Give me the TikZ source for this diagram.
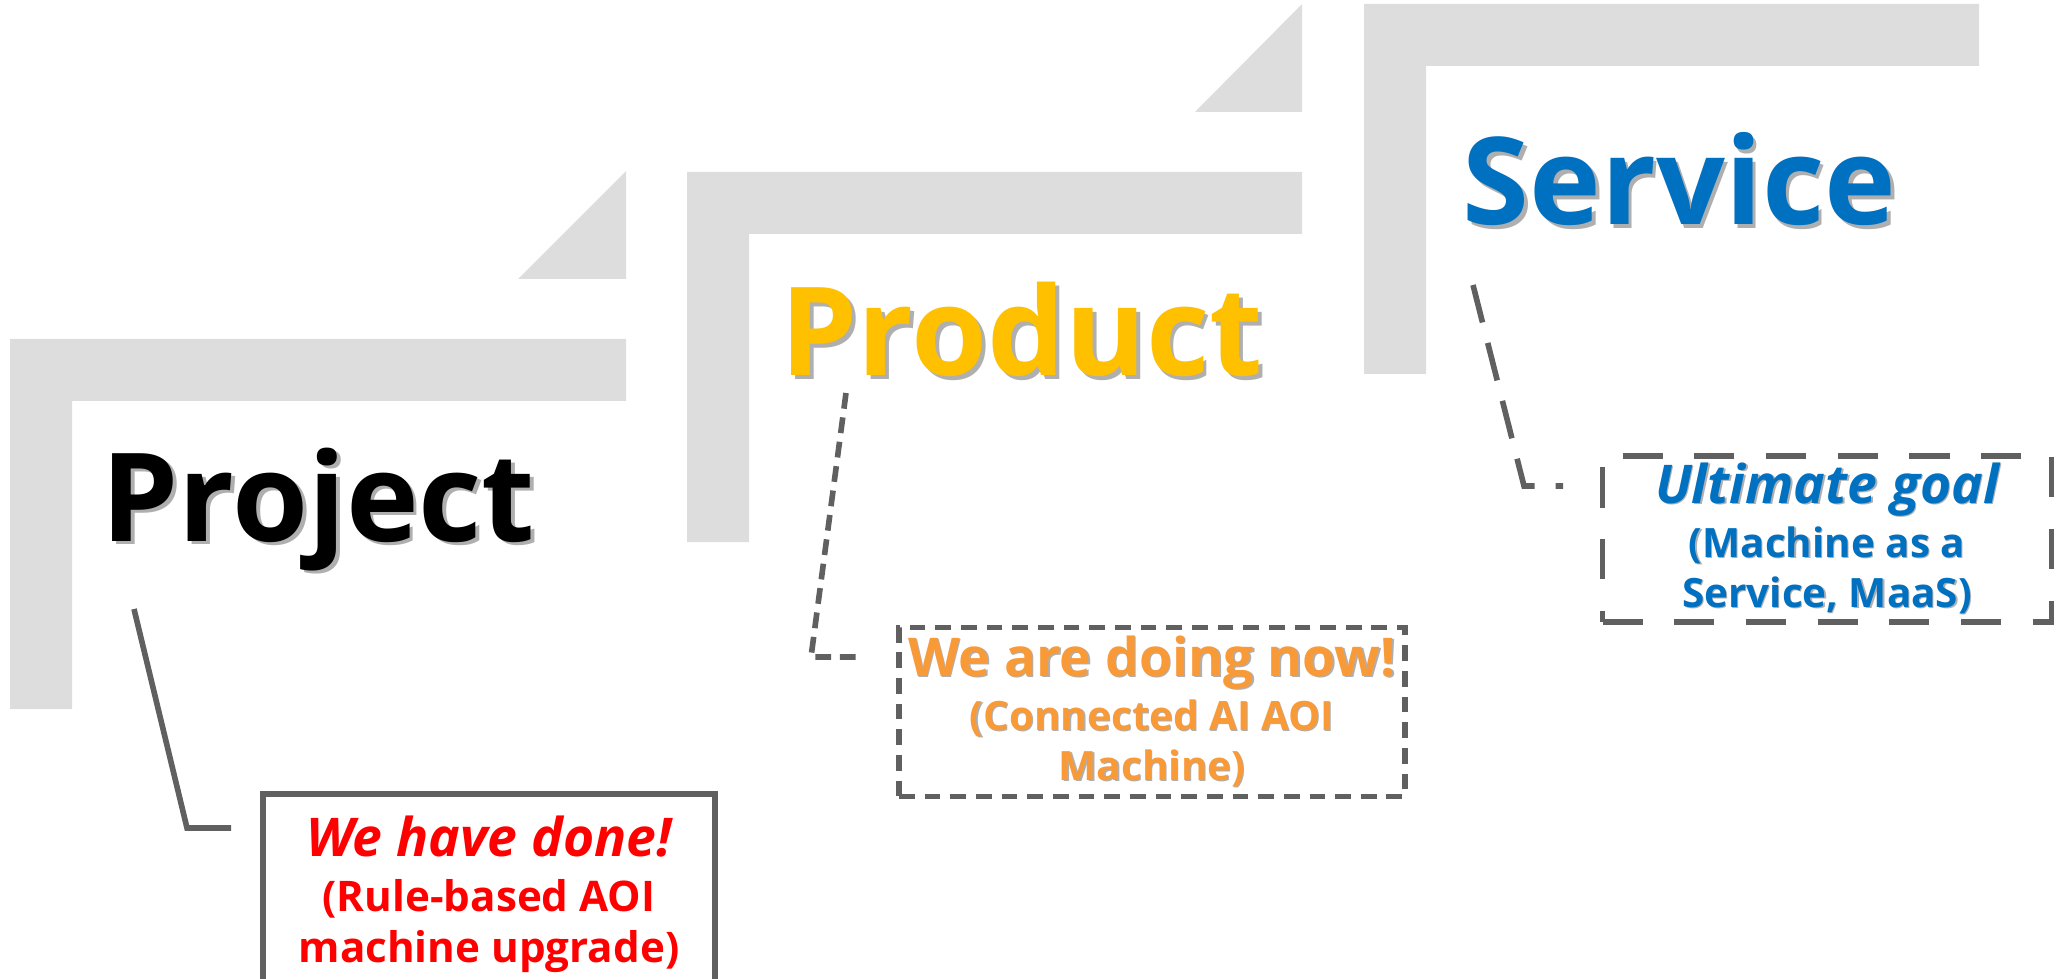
\documentclass[tikz,border=0pt]{standalone}
\usepackage{fontspec}
\setmainfont{Open Sans}
\usepackage{tikz}
\usetikzlibrary{calc}
\usetikzlibrary{positioning}
\definecolor{stepgray}{RGB}{221, 221, 221}
\definecolor{framegray}{RGB}{96, 96, 96}
\definecolor{amber}{RGB}{255, 192, 0}
\definecolor{tangerine}{RGB}{249, 154, 56}
\definecolor{cobalt}{RGB}{0, 112, 192}
\definecolor{scarlet}{RGB}{255, 0, 0}
\definecolor{shade}{RGB}{175, 175, 175}

\newcommand{\shadowed}[2]{\makebox[0pt][l]{\kern0.03em\raisebox{-0.03em}{\color{shade}#2}}{\color{#1}#2}}
\newcommand{\headline}{\fontsize{15.2}{15.5}\selectfont}

\tikzset{
  steptitle/.style={anchor=base west, inner sep=0pt, font=\fontsize{35}{42}\selectfont\bfseries},
  notebox/.style={draw=framegray, line width=1.6pt, align=center, inner sep=0pt,
                  font=\fontsize{11.5}{14.2}\selectfont\bfseries},
  link/.style={framegray, line width=1.6pt},
}

\begin{document}
\begin{tikzpicture}
            \useasboundingbox (0.00, 0.00) rectangle (20.67, 9.78);
            % steps
            \fill[stepgray] ( 0.10, 6.39) -- ( 6.26, 6.39) -- ( 6.26, 5.77) -- ( 0.72, 5.77) -- ( 0.72, 2.69) -- ( 0.10, 2.69) -- cycle;
            \fill[stepgray] ( 6.87, 8.06) -- (13.02, 8.06) -- (13.02, 7.44) -- ( 7.49, 7.44) -- ( 7.49, 4.36) -- ( 6.87, 4.36) -- cycle;
            \fill[stepgray] (13.64, 9.74) -- (19.79, 9.74) -- (19.79, 9.12) -- (14.26, 9.12) -- (14.26, 6.04) -- (13.64, 6.04) -- cycle;
            \fill[stepgray] ( 5.18, 6.99) -- ( 6.26, 6.99) -- ( 6.26, 8.07) -- cycle;
            \fill[stepgray] (11.95, 8.66) -- (13.02, 8.66) -- (13.02, 9.74) -- cycle;

            % titles
            \node[steptitle] (project) at ( 1.01, 4.37) {\shadowed{black}{Project}};
            \node[steptitle] (product) at ( 7.80, 6.02) {\shadowed{amber}{Product}};
            \node[steptitle, font=\fontsize{34.5}{42}\selectfont\bfseries] (service) at (14.62, 7.53) {\shadowed{cobalt}{Service}};

            % notes
            \node[notebox, text=scarlet, font=\fontsize{12}{14.4}\selectfont\bfseries,
                  minimum width=4.52cm, minimum height=2.00cm] (projbox) at ( 4.89, 0.84)
                 {{\headline\itshape We have done!}\\[1.3pt]
                  (Rule-based AOI\\ machine upgrade)};
            \node[notebox, dash pattern=on 4.5pt off 2.8pt, minimum width=5.06cm, minimum height=1.69cm] (prodbox) at (11.52, 2.66)
                 {{\headline\shadowed{tangerine}{We are doing now!}}\\[1.3pt]
                  \shadowed{tangerine}{(Connected AI AOI}\\ \shadowed{tangerine}{Machine)}};
            \node[notebox, dash pattern=on 11.4pt off 9pt, minimum width=4.49cm, minimum height=1.66cm] (servbox) at (18.27, 4.39)
                 {{\headline\itshape\shadowed{cobalt}{Ultimate goal}}\\[1.3pt]
                  \shadowed{cobalt}{(Machine as a}\\ \shadowed{cobalt}{Service, MaaS)}};

            % links
            \coordinate (projtail) at ( 1.34, 3.69);
            \coordinate (projbend) at ( 1.87, 1.50);
            \coordinate (projend)  at ( 2.31, 1.50);
            \coordinate (prodtail) at ( 8.46, 5.85);
            \coordinate (prodbend) at ( 8.11, 3.21);
            \coordinate (prodend)  at ( 8.56, 3.21);
            \coordinate (servtail) at (14.73, 6.93);
            \coordinate (servbend) at (15.24, 4.92);
            \coordinate (servend)  at (15.63, 4.92);
            \draw[link]                                   (projtail) -- (projbend) -- (projend);
            \draw[link, dash pattern=on 4.5pt off 2.5pt]  (prodtail) -- (prodbend) -- (prodend);
            \draw[link, dash pattern=on 11pt off 6pt]     (servtail) -- (servbend) -- (servend);
\end{tikzpicture}
\end{document}
